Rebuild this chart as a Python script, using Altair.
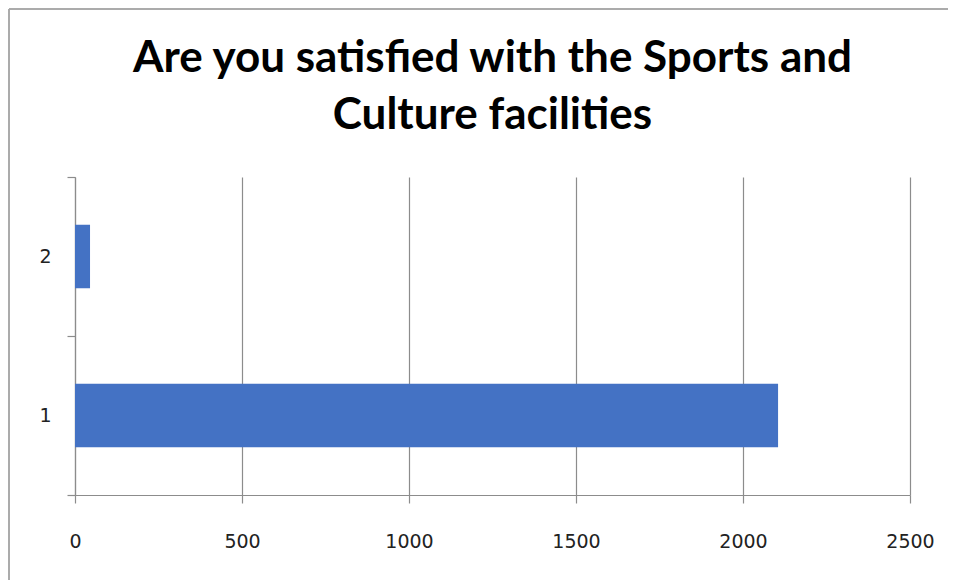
import altair as alt
import pandas as pd

categories = ["1", "2"]
values = [2105, 45]

df = pd.DataFrame({"cat": categories, "val": values})

bars = alt.Chart(df).mark_bar(color="#4472C4", height={"band": 0.4}).encode(
    x=alt.X("val:Q",
            scale=alt.Scale(domain=[0, 2500], nice=False),
            axis=alt.Axis(values=[0, 500, 1000, 1500, 2000, 2500], title=None,
                          format="d",
                          grid=True, gridColor="#8c8c8c", gridWidth=1.2,
                          domainColor="#8c8c8c", domainWidth=1.2,
                          tickColor="#8c8c8c", tickSize=8, tickWidth=1.2,
                          labelFont="DejaVu Sans", labelFontSize=19,
                          labelColor="#222222", labelPadding=29,
                          labelFlush=False)),
    y=alt.Y("cat:N", sort="descending",
            scale=alt.Scale(paddingInner=0, paddingOuter=0),
            axis=alt.Axis(title=None, tickBand="extent", grid=False,
                          domainColor="#8c8c8c", domainWidth=1.2,
                          tickColor="#8c8c8c", tickSize=8, tickWidth=1.2,
                          labelFont="DejaVu Sans", labelFontSize=19,
                          labelColor="#222222", labelPadding=16, labelAngle=0)),
)

frame_top = alt.Chart(df).mark_rule(color="#a6a6a6", strokeWidth=1.5, clip=False).encode(
    x=alt.value(-66), x2=alt.value(900), y=alt.value(-168)
)
frame_left = alt.Chart(df).mark_rule(color="#a6a6a6", strokeWidth=1.5, clip=False).encode(
    x=alt.value(-66), y=alt.value(-168), y2=alt.value(420)
)

chart = alt.layer(frame_top, frame_left, bars).properties(
    width=835,
    height=318,
    title=alt.TitleParams(
        text=["Are you satisfied with the Sports and", "Culture facilities"],
        font="Lato", fontSize=44, fontWeight="bold", color="#000000",
        anchor="middle", lineHeight=57, offset=-130, frame="group",
    ),
    autosize=alt.AutoSizeParams(type="none"),
    padding={"left": 67, "top": 169, "right": 38, "bottom": 85},
).configure(background="white").configure_view(strokeWidth=0, stroke="transparent")

chart.save("out.html", embed_options={"renderer": "svg", "actions": False})
